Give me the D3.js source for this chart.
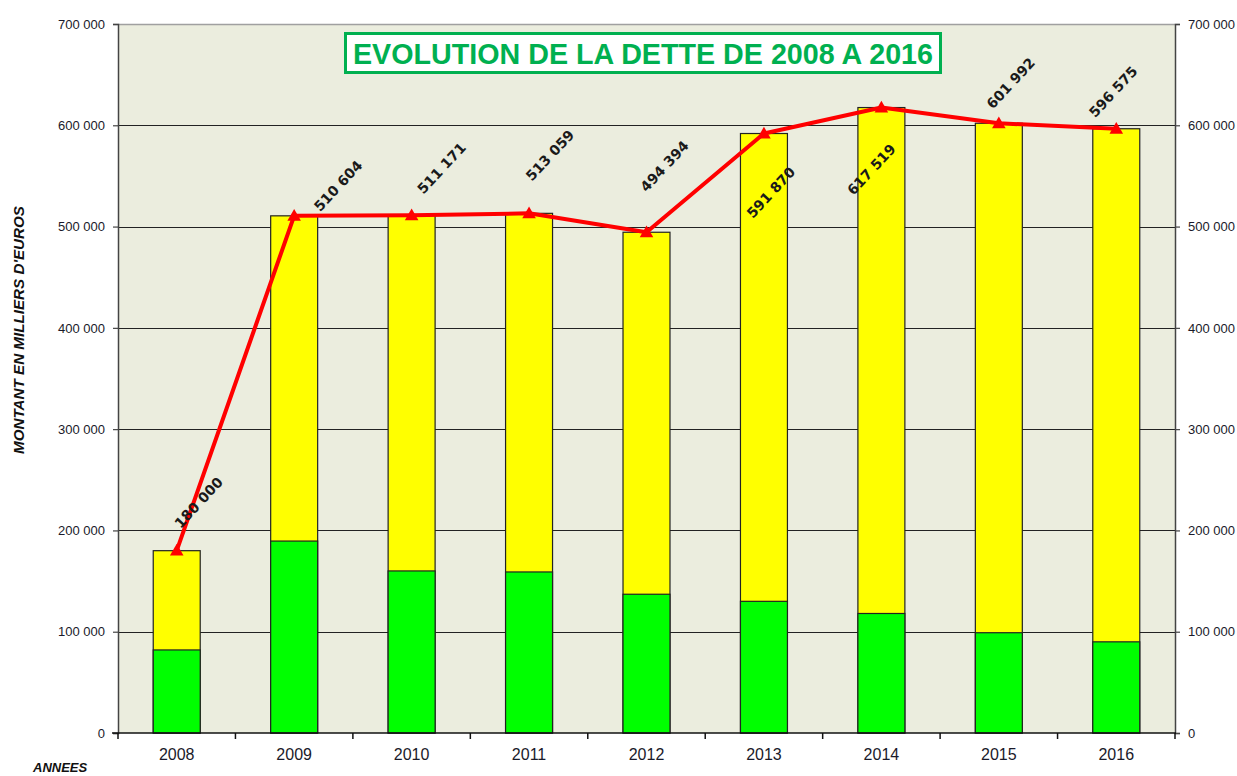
<!DOCTYPE html>
<html>
<head>
<meta charset="utf-8">
<script src="https://cdn.jsdelivr.net/npm/d3@7"></script>
<style>
  body { margin: 0; background: #fff; }
  svg { display: block; }
</style>
</head>
<body>
<div id="chartArea"></div>
<script>
// donnees
var annees = ['2008', '2009', '2010', '2011', '2012', '2013', '2014', '2015', '2016'];
var detteTotale = [180000, 510604, 511171, 513059, 494394, 591870, 617519, 601992, 596575];
var partVerte = [82000, 189500, 160000, 159000, 137000, 130000, 118000, 99000, 90000];
var yTicks = [0, 100000, 200000, 300000, 400000, 500000, 600000, 700000];

// decalage des etiquettes (px) par annee, comme sur l'original
var labelShift = [[22, -48], [44, -30], [30, -47], [21, -58], [18, -66], [7, 59], [-10, 62], [12, -40], [-3, -37]];

var fr = d3.formatLocale({ decimal: ',', thousands: ' ', grouping: [3], currency: ['', ' €'] });
var fmt = fr.format(',d');

var svg = d3.select('#chartArea').append('svg')
    .attr('width', 1237).attr('height', 776);

var x0 = 118, x1 = 1175, yTop = 24, yBot = 733;

var x = d3.scaleBand().domain(annees).range([x0, x1]).paddingInner(0.6).paddingOuter(0.3);
var xb = d3.scaleBand().domain(annees).range([x0, x1]); // pour les graduations entre annees
var y = d3.scaleLinear().domain([0, 700000]).range([yBot, yTop]);

// fond de la zone de trace
svg.append('rect')
    .attr('x', x0).attr('y', yTop)
    .attr('width', x1 - x0).attr('height', yBot - yTop)
    .attr('fill', '#ebedde');

// bord haut gris
svg.append('line')
    .attr('x1', x0).attr('x2', x1).attr('y1', yTop + 0.5).attr('y2', yTop + 0.5)
    .attr('stroke', '#a0a0a0').attr('stroke-width', 1.5);

// quadrillage
svg.append('g').selectAll('line').data(yTicks.slice(1, -1)).enter().append('line')
    .attr('x1', x0).attr('x2', x1)
    .attr('y1', function (d) { return Math.round(y(d)) + 0.5; })
    .attr('y2', function (d) { return Math.round(y(d)) + 0.5; })
    .attr('stroke', '#222').attr('stroke-width', 1.2);

// axes gauche et droit
var axisFont = '13px "Liberation Sans", Arial, sans-serif';
var left = svg.append('g').attr('transform', 'translate(' + x0 + ',0)')
    .call(d3.axisLeft(y).tickValues(yTicks).tickFormat(fmt).tickSize(5).tickPadding(8));
var right = svg.append('g').attr('transform', 'translate(' + x1 + ',0)')
    .call(d3.axisRight(y).tickValues(yTicks).tickFormat(fmt).tickSize(5).tickPadding(8));
[left, right].forEach(function (a) {
    a.select('.domain').attr('stroke', '#444').attr('stroke-width', 1.5);
    a.selectAll('.tick line').attr('stroke', '#444').attr('stroke-width', 1.2);
    a.selectAll('.tick text').style('font', axisFont).attr('fill', '#1a1a2a');
});

// barres : part jaune (totale) puis part verte
var bars = svg.append('g');
bars.selectAll('.jaune').data(annees).enter().append('rect')
    .attr('class', 'jaune')
    .attr('x', function (d) { return x(d); })
    .attr('width', x.bandwidth())
    .attr('y', function (d, i) { return y(detteTotale[i]); })
    .attr('height', function (d, i) { return y(0) - y(detteTotale[i]); })
    .attr('fill', '#ffff00').attr('stroke', '#222').attr('stroke-width', 1.2);
bars.selectAll('.vert').data(annees).enter().append('rect')
    .attr('class', 'vert')
    .attr('x', function (d) { return x(d); })
    .attr('width', x.bandwidth())
    .attr('y', function (d, i) { return y(partVerte[i]); })
    .attr('height', function (d, i) { return y(0) - y(partVerte[i]); })
    .attr('fill', '#00ff00').attr('stroke', '#222').attr('stroke-width', 1.2);

// axe du bas
var bottom = svg.append('g').attr('transform', 'translate(0,' + yBot + ')');
bottom.append('line').attr('x1', x0 - 6).attr('x2', x1 + 1).attr('stroke', '#111').attr('stroke-width', 1.5);
bottom.selectAll('.tk').data(annees.concat(['fin'])).enter().append('line')
    .attr('x1', function (d, i) { return i < annees.length ? xb(d) : x1; })
    .attr('x2', function (d, i) { return i < annees.length ? xb(d) : x1; })
    .attr('y1', 0).attr('y2', 6)
    .attr('stroke', '#111').attr('stroke-width', 1.5);
bottom.selectAll('text').data(annees).enter().append('text')
    .attr('x', function (d) { return x(d) + x.bandwidth() / 2; })
    .attr('y', 27)
    .attr('text-anchor', 'middle')
    .style('font', '16px "Liberation Sans", Arial, sans-serif')
    .attr('fill', '#1a1a2a')
    .text(function (d) { return d; });

// courbe rouge
var pts = annees.map(function (d, i) {
    return { an: d, v: detteTotale[i], px: x(d) + x.bandwidth() / 2, py: y(detteTotale[i]) };
});
var line = d3.line().x(function (d) { return d.px; }).y(function (d) { return d.py; });
svg.append('path').datum(pts)
    .attr('d', line)
    .attr('fill', 'none').attr('stroke', '#ff0000').attr('stroke-width', 4)
    .attr('stroke-linejoin', 'round');
svg.append('g').selectAll('path').data(pts).enter().append('path')
    .attr('d', d3.symbol().type(d3.symbolTriangle).size(80))
    .attr('transform', function (d) { return 'translate(' + d.px + ',' + (d.py + 1) + ')'; })
    .attr('fill', '#ff0000');

// etiquettes de valeur
svg.append('g').selectAll('text').data(pts).enter().append('text')
    .attr('transform', function (d, i) {
        return 'translate(' + (d.px + labelShift[i][0]) + ',' + (d.py + labelShift[i][1]) + ') rotate(-47)';
    })
    .attr('text-anchor', 'middle')
    .attr('dy', '0.35em')
    .style('font', 'bold 14px "DejaVu Sans", sans-serif')
    .attr('fill', '#1a1a1a')
    .text(function (d) { return fmt(d.v); });

// titre encadre
svg.append('rect')
    .attr('x', 345.5).attr('y', 33.5).attr('width', 595).attr('height', 39)
    .attr('fill', '#fff').attr('stroke', '#00b050').attr('stroke-width', 3);
svg.append('text')
    .attr('x', 643).attr('y', 64)
    .attr('text-anchor', 'middle')
    .attr('textLength', 580).attr('lengthAdjust', 'spacingAndGlyphs')
    .style('font', 'bold 29px "Liberation Sans Narrow", "Liberation Sans", sans-serif')
    .attr('fill', '#00b050')
    .text('EVOLUTION DE LA DETTE DE 2008 A 2016');

// titres des axes
svg.append('text')
    .attr('transform', 'translate(24,330) rotate(-90)')
    .attr('text-anchor', 'middle')
    .attr('textLength', 248).attr('lengthAdjust', 'spacingAndGlyphs')
    .style('font', 'italic bold 14px "Liberation Sans", Arial, sans-serif')
    .attr('fill', '#111')
    .text("MONTANT EN MILLIERS D'EUROS");
svg.append('text')
    .attr('x', 33).attr('y', 772)
    .style('font', 'italic bold 13px "Liberation Sans", Arial, sans-serif')
    .attr('fill', '#111')
    .text('ANNEES');
</script>
</body>
</html>
